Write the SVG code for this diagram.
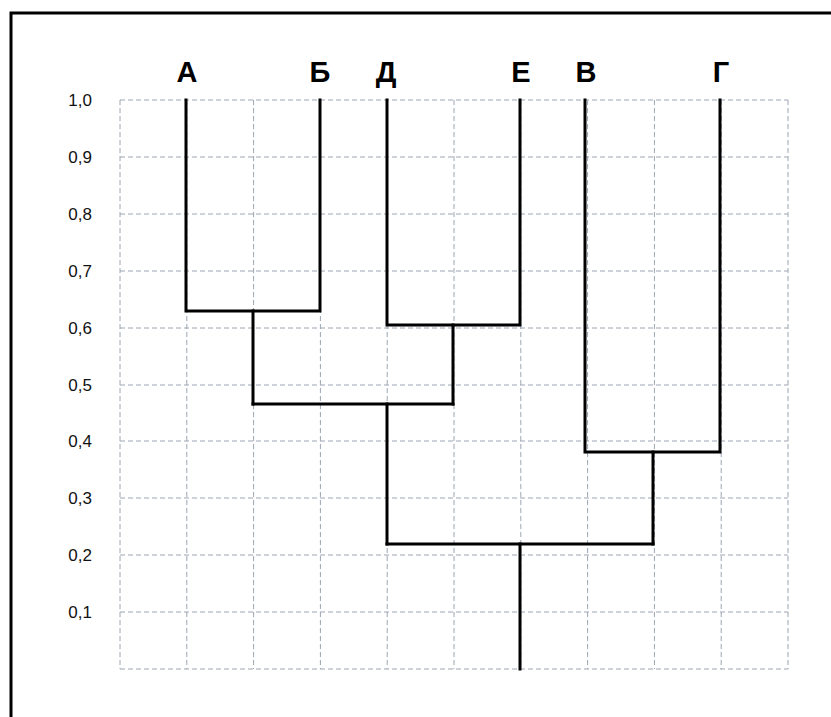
<svg xmlns="http://www.w3.org/2000/svg" width="831" height="717" viewBox="0 0 831 717">
<style>
.frame{fill:none;stroke:#000;stroke-width:3}
.grid line{stroke:#9aa6b2;stroke-width:1;stroke-dasharray:5,3}
.axis text{font-family:"Liberation Sans",Arial,sans-serif;font-size:17px;fill:#111;text-anchor:end}
.leaf text{font-family:"Liberation Sans",Arial,sans-serif;font-size:29px;font-weight:bold;fill:#000;text-anchor:middle}
.links path{fill:none;stroke:#000;stroke-width:3;stroke-linecap:square;stroke-linejoin:miter}
</style>
<rect width="831" height="717" fill="#fff"/>
<path class="frame" d="M11,719 V13 H833"/>
<g class="grid" id="grid">
<line x1="120" y1="100" x2="788" y2="100"/>
<line x1="120" y1="157" x2="788" y2="157"/>
<line x1="120" y1="214" x2="788" y2="214"/>
<line x1="120" y1="271" x2="788" y2="271"/>
<line x1="120" y1="328" x2="788" y2="328"/>
<line x1="120" y1="385" x2="788" y2="385"/>
<line x1="120" y1="441" x2="788" y2="441"/>
<line x1="120" y1="498" x2="788" y2="498"/>
<line x1="120" y1="555" x2="788" y2="555"/>
<line x1="120" y1="612" x2="788" y2="612"/>
<line x1="120" y1="669" x2="788" y2="669"/>
<line x1="120" y1="100" x2="120" y2="669"/>
<line x1="186.8" y1="100" x2="186.8" y2="669"/>
<line x1="253.6" y1="100" x2="253.6" y2="669"/>
<line x1="320.4" y1="100" x2="320.4" y2="669"/>
<line x1="387.2" y1="100" x2="387.2" y2="669"/>
<line x1="454" y1="100" x2="454" y2="669"/>
<line x1="520.8" y1="100" x2="520.8" y2="669"/>
<line x1="587.6" y1="100" x2="587.6" y2="669"/>
<line x1="654.4" y1="100" x2="654.4" y2="669"/>
<line x1="721.2" y1="100" x2="721.2" y2="669"/>
<line x1="788" y1="100" x2="788" y2="669"/>
</g>
<g class="axis" id="axis">
<text x="92" y="106">1,0</text>
<text x="92" y="163">0,9</text>
<text x="92" y="220">0,8</text>
<text x="92" y="277">0,7</text>
<text x="92" y="334">0,6</text>
<text x="92" y="391">0,5</text>
<text x="92" y="447">0,4</text>
<text x="92" y="504">0,3</text>
<text x="92" y="561">0,2</text>
<text x="92" y="618">0,1</text>
</g>
<g class="leaf" id="node-A"><text x="187" y="82">А</text></g>
<g class="leaf" id="node-B"><text x="320" y="82">Б</text></g>
<g class="leaf" id="node-D"><text x="386" y="82">Д</text></g>
<g class="leaf" id="node-E"><text x="521" y="82">Е</text></g>
<g class="leaf" id="node-V"><text x="586" y="82">В</text></g>
<g class="leaf" id="node-G"><text x="721" y="82">Г</text></g>
<g class="links" id="connectors">
<path d="M186,100 V311 H320 V100"/>
<path d="M253,311 V404"/>
<path d="M387,100 V325 H520 V100"/>
<path d="M453,325 V404"/>
<path d="M253,404 H453"/>
<path d="M387,404 V544"/>
<path d="M585,100 V452 H720 V100"/>
<path d="M653,452 V544"/>
<path d="M387,544 H653"/>
<path d="M520,544 V669"/>
</g>
</svg>
